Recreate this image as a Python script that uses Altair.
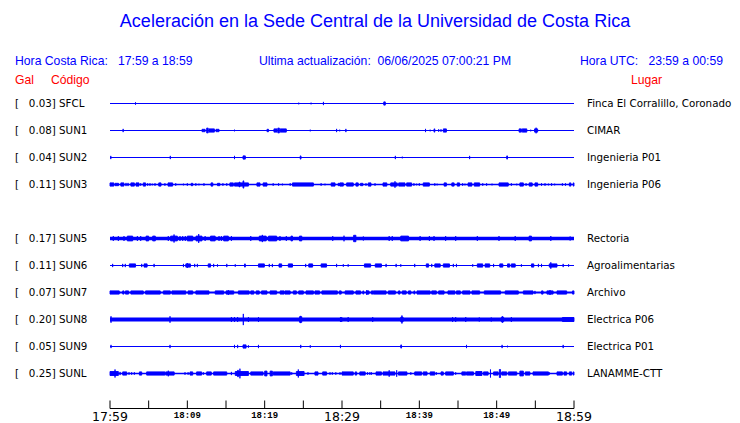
import altair as alt
import pandas as pd

# ---------------- data ----------------
CODES = ["SFCL", "SUN1", "SUN2", "SUN3", "SUN5", "SUN6", "SUN7", "SUN8", "SUN9", "SUNL"]
SLOTS = [0, 1, 2, 3, 5, 6, 7, 8, 9, 10]          # SUN4 slot is empty
PEAK_GAL = ["0.03", "0.08", "0.04", "0.11", "0.17", "0.11", "0.07", "0.20", "0.05", "0.25"]
PLACES = ["Finca El Corralillo, Coronado", "CIMAR", "Ingenieria P01", "Ingenieria P06",
          "Rectoria", "Agroalimentarias", "Archivo", "Electrica P06", "Electrica P01",
          "LANAMME-CTT"]

TICK_MIN = [0, 5, 10, 15, 20, 25, 30, 35, 40, 45, 50, 55, 60]
MAJOR_LABEL_MIN = [0, 30, 60]
MAJOR_LABELS = ["17:59", "18:29", "18:59"]
MINOR_LABEL_MIN = [10, 20, 40, 50]
MINOR_LABELS = ["18:09", "18:19", "18:39", "18:49"]

# events per station: (start minute, end minute, relative amplitude)
SFCL = [(3.3, 3.3, 1.5), (24.4, 24.4, 1), (26.0, 26.0, 1), (27.6, 27.6, 2), (35.4, 35.6, 2)]
SUN1 = [(1.7, 1.7, 2), (11.9, 12.3, 1.5), (12.5, 12.7, 3), (12.8, 13.5, 2), (13.7, 14.1, 1.5),
        (16.1, 16.1, 1), (20.3, 20.5, 1.5), (21.2, 21.6, 2), (21.7, 21.9, 3), (22.0, 22.8, 2),
        (25.9, 25.9, 1), (29.3, 29.3, 2), (29.7, 29.7, 1), (30.5, 30.5, 2), (40.8, 40.8, 2),
        (41.4, 41.4, 1), (41.9, 42.0, 2), (42.5, 42.5, 1.5), (42.8, 42.8, 1.5), (43.1, 43.5, 2),
        (52.9, 53.2, 2), (53.3, 53.9, 2), (54.4, 54.4, 1), (54.9, 55.3, 2), (55.1, 55.1, 3.5)]
SUN2 = [(0.1, 0.1, 2), (7.8, 7.8, 2), (16.1, 16.1, 2), (17.2, 17.5, 2), (24.6, 24.7, 2),
        (36.9, 36.9, 2), (37.8, 37.8, 1), (46.5, 46.5, 2), (51.3, 51.4, 2)]
SUN3 = [(0.0, 0.5, 2), (0.65, 1.1, 1.5), (1.4, 1.8, 2), (2.07, 2.07, 2), (2.33, 2.33, 2),
        (2.7, 3.15, 2), (3.36, 3.75, 2), (3.97, 3.97, 1.5), (4.3, 4.6, 2), (4.87, 4.87, 1.5),
        (5.17, 5.17, 1.5), (5.47, 5.47, 1), (5.82, 5.82, 1.5), (6.3, 6.6, 2), (7.1, 7.1, 1.5),
        (7.5, 8.1, 2), (8.5, 8.5, 1.5), (9.5, 9.5, 1), (10.0, 10.0, 1.5), (10.5, 10.7, 1.5),
        (11.1, 11.1, 1.5), (11.5, 11.5, 1), (12.15, 12.15, 1.5), (13.06, 13.3, 2), (13.9, 14.2, 1.5),
        (14.6, 14.6, 1.5), (15.1, 15.1, 1.5), (15.5, 15.95, 2), (16.1, 17.9, 2), (16.7, 16.8, 3),
        (17.2, 17.3, 4.5), (19.0, 19.4, 2), (19.8, 20.3, 2), (21.1, 21.1, 1.5), (21.8, 21.8, 1.5),
        (22.3, 22.3, 1), (23.3, 23.3, 1.5), (23.6, 26.3, 2), (27.3, 27.3, 1.5), (27.8, 27.8, 1),
        (28.6, 29.1, 2), (29.5, 29.7, 1.5), (29.74, 30.17, 2), (30.6, 31.46, 2), (31.8, 32.1, 2),
        (32.4, 32.7, 1.5), (33.1, 33.1, 1.5), (33.4, 33.75, 2), (34.27, 34.27, 1.5), (35.3, 35.8, 2),
        (36.3, 37.15, 2), (36.85, 36.85, 4), (37.33, 38.15, 2), (38.36, 39.0, 2), (39.3, 39.3, 1.5),
        (39.65, 39.65, 1), (40.0, 40.0, 1.5), (40.5, 41.3, 2), (42.0, 42.0, 1.5), (42.3, 42.3, 1),
        (43.2, 43.5, 2), (44.2, 44.5, 2), (44.9, 45.2, 2), (45.6, 45.6, 1.5), (45.9, 45.9, 1),
        (46.3, 46.8, 2), (47.1, 47.8, 2), (48.2, 48.2, 1.5), (48.7, 48.7, 1.5), (49.4, 49.4, 1),
        (50.3, 51.5, 2), (51.9, 51.9, 1.5), (52.6, 52.6, 1), (53.0, 53.45, 2), (53.8, 53.8, 1.5),
        (54.2, 54.6, 2), (54.95, 55.3, 2), (55.8, 55.8, 1.5), (56.25, 56.25, 1.5), (56.7, 56.7, 1),
        (57.1, 57.1, 1.5), (57.5, 57.5, 1), (58.5, 58.5, 1.5), (58.9, 58.9, 1.5), (59.4, 59.6, 2),
        (59.9, 60.0, 2)]
SUN5 = [(0.43, 0.43, 3), (1.08, 1.08, 3), (1.81, 1.81, 3), (2.24, 2.93, 3), (3.54, 3.54, 3),
        (3.97, 3.97, 3), (4.66, 5.0, 3), (5.52, 5.86, 3), (7.54, 7.54, 3), (7.84, 8.71, 3),
        (8.28, 8.28, 5), (9.05, 9.05, 3), (9.4, 9.4, 3), (9.74, 9.74, 3), (10.0, 10.7, 3),
        (11.12, 11.9, 3), (11.47, 11.47, 5.5), (12.3, 12.3, 3), (13.0, 13.6, 3), (14.1, 14.1, 3),
        (14.4, 14.4, 3), (14.7, 15.3, 3), (15.7, 15.7, 3), (18.2, 18.2, 3), (19.3, 20.2, 3),
        (19.7, 19.7, 4.5), (20.5, 21.55, 3), (21.98, 21.98, 3), (22.8, 22.8, 3), (23.4, 23.6, 3),
        (24.5, 24.8, 3), (28.8, 28.8, 3), (30.26, 30.26, 3.5), (31.5, 31.8, 4), (32.76, 32.76, 2.5),
        (36.1, 36.1, 3), (36.5, 36.5, 3), (37.6, 38.6, 3), (40.1, 40.1, 3), (41.3, 41.3, 3),
        (41.9, 41.9, 3), (43.4, 43.4, 3), (44.7, 44.7, 3), (47.5, 47.5, 3), (50.3, 50.3, 3),
        (52.4, 52.4, 3), (54.2, 54.5, 3), (57.0, 57.0, 3), (59.5, 59.5, 2.5)]
SUN6 = [(0.34, 0.34, 2), (1.64, 1.64, 2), (1.98, 1.98, 2), (2.5, 3.3, 2), (4.1, 4.1, 2),
        (4.4, 4.8, 2), (5.7, 5.7, 2), (9.5, 9.5, 2), (9.8, 10.4, 2), (10.0, 10.0, 3),
        (10.95, 10.95, 2), (11.3, 11.3, 2), (12.7, 13.0, 2), (13.4, 13.4, 2), (13.9, 13.9, 1.5),
        (15.1, 15.1, 2), (16.2, 16.2, 1.5), (17.4, 17.5, 2), (19.2, 19.96, 2), (20.6, 20.6, 2),
        (21.0, 21.0, 2), (21.85, 22.2, 2), (23.06, 23.6, 2), (25.3, 25.3, 2), (25.7, 26.2, 2),
        (27.3, 28.0, 2), (29.3, 29.3, 2), (30.17, 30.17, 1.5), (30.8, 30.8, 1.5), (32.9, 33.7, 2),
        (34.3, 35.1, 2), (35.7, 35.7, 2), (37.0, 37.0, 2), (37.6, 37.6, 1.5), (39.4, 39.4, 2),
        (40.9, 41.2, 2), (41.6, 41.6, 2), (42.0, 42.7, 2), (43.1, 43.9, 2), (44.4, 44.4, 2),
        (44.8, 44.8, 2), (46.9, 46.9, 1.5), (47.5, 48.2, 2), (48.5, 49.1, 2), (49.6, 49.6, 2),
        (50.4, 50.8, 2), (51.4, 51.7, 2), (51.9, 52.4, 2), (53.2, 53.2, 1.5), (54.5, 54.8, 2),
        (55.4, 55.4, 2), (55.8, 55.8, 2), (56.8, 57.8, 2), (57.0, 57.0, 4), (58.6, 58.6, 2),
        (59.3, 59.3, 1.5)]
SUN7 = [(0.0, 1.2, 2), (1.64, 1.81, 2), (2.0, 2.4, 2), (2.7, 4.3, 2), (4.6, 6.5, 2), (6.9, 7.8, 2),
        (8.0, 9.8, 2), (10.1, 10.7, 2), (11.1, 12.8, 2), (13.6, 14.7, 2), (15.0, 16.0, 2),
        (15.3, 15.3, 3), (16.6, 18.0, 2), (18.2, 18.6, 2), (18.9, 19.3, 2), (19.6, 20.3, 2),
        (20.7, 21.55, 2), (22.0, 22.5, 2), (22.6, 23.3, 2), (23.7, 24.1, 2), (24.4, 25.0, 2),
        (25.35, 26.3, 2), (26.5, 27.1, 2), (27.4, 29.4, 2), (29.65, 29.9, 2), (30.4, 31.46, 2),
        (31.8, 32.4, 2), (32.7, 32.8, 2), (33.2, 33.5, 2), (33.2, 33.2, 3), (33.8, 34.0, 2),
        (34.05, 35.7, 2), (36.0, 36.9, 2), (37.3, 37.5, 2), (37.8, 38.3, 2), (38.6, 38.9, 2),
        (39.3, 39.4, 2), (39.7, 41.4, 2), (41.6, 42.2, 2), (42.5, 43.2, 2), (43.7, 44.6, 2),
        (44.8, 45.3, 2), (45.6, 46.55, 2), (46.8, 47.8, 2), (48.4, 50.5, 2), (51.1, 52.8, 2),
        (53.45, 54.7, 2), (54.95, 54.95, 2), (55.8, 56.0, 2), (56.5, 57.3, 2), (56.9, 56.9, 3),
        (57.8, 59.05, 2), (59.8, 60.0, 2)]
SUN8 = [(0.13, 0.13, 4), (7.76, 7.76, 4), (15.7, 15.7, 3), (16.1, 16.1, 3), (16.5, 16.5, 3),
        (17.24, 17.24, 7), (17.9, 17.9, 3), (19.2, 19.2, 3), (24.5, 24.8, 3.5), (24.65, 24.65, 4.5),
        (29.8, 29.8, 3), (29.96, 29.96, 3), (30.8, 30.8, 3), (33.97, 33.97, 3), (37.6, 37.9, 3),
        (37.75, 37.75, 5), (44.3, 44.3, 3), (44.7, 44.7, 3), (46.0, 46.0, 3), (47.75, 47.75, 2.5),
        (49.3, 49.3, 2.5), (50.6, 50.9, 3), (50.75, 50.75, 4), (51.9, 51.9, 3), (58.5, 60.0, 2.5)]
SUN9 = [(0.13, 0.13, 2), (7.76, 7.76, 2), (16.1, 16.1, 2), (16.5, 16.5, 2), (17.2, 17.6, 2),
        (17.9, 17.9, 1.5), (19.2, 19.2, 2), (24.66, 24.66, 2), (25.9, 25.9, 1.5), (29.8, 29.8, 2),
        (37.6, 37.7, 2), (46.1, 46.1, 2), (50.7, 50.7, 2), (51.4, 51.4, 1), (58.6, 58.6, 2)]
SUNL = [(0.0, 1.08, 2.5), (0.65, 0.65, 5), (1.3, 1.3, 2), (1.64, 2.16, 2), (2.46, 2.46, 1.5),
        (2.8, 2.8, 1.5), (3.15, 3.15, 1.5), (3.8, 4.1, 2), (4.74, 7.1, 2), (7.2, 8.3, 2),
        (7.54, 7.54, 3.5), (9.7, 9.7, 1.5), (10.1, 10.1, 1.5), (10.35, 10.7, 2), (11.2, 11.85, 2),
        (12.07, 12.07, 1.5), (12.5, 13.1, 2), (13.4, 15.1, 2), (15.7, 15.7, 2), (16.2, 17.9, 2.5),
        (16.5, 16.6, 4), (16.8, 16.8, 6), (18.2, 19.8, 2), (20.0, 20.3, 3), (20.7, 21.0, 3),
        (21.1, 23.3, 2), (23.5, 23.5, 1.5), (24.1, 25.1, 2.5), (24.35, 24.35, 5), (25.6, 25.6, 1.5),
        (26.5, 26.9, 2), (27.5, 28.0, 2), (28.45, 28.45, 1.5), (28.75, 28.75, 1.5), (29.2, 29.2, 1.5),
        (29.74, 29.74, 1.5), (30.0, 31.46, 2), (31.7, 31.9, 2), (32.3, 33.0, 2), (33.3, 33.3, 1.5),
        (33.6, 33.6, 1.5), (33.8, 33.8, 1.5), (34.4, 35.1, 2), (35.3, 36.85, 2), (36.1, 36.1, 4),
        (37.07, 37.07, 4), (37.3, 38.4, 2), (38.9, 38.9, 1.5), (39.4, 40.3, 2), (40.5, 41.0, 2),
        (41.4, 42.0, 2), (42.2, 42.2, 1.5), (42.8, 43.1, 2), (43.4, 44.4, 2), (44.7, 44.7, 1.5),
        (45.5, 46.0, 2), (46.1, 47.0, 2), (47.3, 48.1, 2.5), (48.3, 48.9, 2), (49.2, 49.2, 5),
        (49.6, 50.2, 2), (50.35, 50.5, 5), (50.65, 51.3, 2), (51.5, 52.6, 2), (53.0, 53.45, 3),
        (53.7, 54.3, 2), (54.7, 56.7, 2), (56.8, 56.8, 1.5), (57.8, 58.5, 2), (58.7, 59.05, 2),
        (59.4, 59.7, 2), (59.9, 60.0, 2)]
EVENTS = [SFCL, SUN1, SUN2, SUN3, SUN5, SUN6, SUN7, SUN8, SUN9, SUNL]

# ---------------- styles / layout ----------------
BLUE = "#0000ff"
RED = "#ff0000"
NB = "\u00a0"
ROW_STEP = 27
AMP_PX = 0.8
LINE_WIDTH = [1, 1.1, 1, 1.3, 3.5, 1, 1.8, 4, 1.1, 1.4]

xs = alt.Scale(domain=[0, 60], range=[102, 566])
ys = alt.Scale(domain=[0, 270], range=[95.5, 365.5])

base_rows = []
ev_rows = []
for code, slot, g, place, ev, lw in zip(CODES, SLOTS, PEAK_GAL, PLACES, EVENTS, LINE_WIDTH):
    yc = slot * ROW_STEP
    base_rows.append({"code": code, "yc": yc, "x0": TICK_MIN[0], "x1": TICK_MIN[-1], "sw": lw,
                      "left": "[" + NB * 3 + g + "]" + NB + code, "place": place})
    for t0, t1, a in ev:
        ev_rows.append({"code": code, "x0": t0, "x1": t1,
                        "lo": yc - a * AMP_PX, "hi": yc + a * AMP_PX})
base = pd.DataFrame(base_rows)
events = pd.DataFrame(ev_rows)

baseline = alt.Chart(base).mark_rule(color=BLUE).encode(
    x=alt.X("x0:Q", scale=xs, axis=None), x2="x1:Q",
    y=alt.Y("yc:Q", scale=ys, axis=None),
    strokeWidth=alt.StrokeWidth("sw:Q", scale=None, legend=None))

bursts = alt.Chart(events).mark_rect(fill=BLUE, stroke=BLUE, strokeWidth=0.9).encode(
    x=alt.X("x0:Q", scale=xs, axis=None), x2="x1:Q",
    y=alt.Y("lo:Q", scale=ys, axis=None), y2="hi:Q")

left_txt = alt.Chart(base).mark_text(align="left", baseline="middle", font="DejaVu Sans",
                                     fontSize=10.3, color="black").encode(
    x=alt.value(7), y=alt.Y("yc:Q", scale=ys, axis=None), text="left:N")

right_txt = alt.Chart(base).mark_text(align="left", baseline="middle", font="DejaVu Sans",
                                      fontSize=10.3, color="black").encode(
    x=alt.value(579), y=alt.Y("yc:Q", scale=ys, axis=None), text="place:N")


def label(text, x, y, color, size, align="left", font="Liberation Sans"):
    return alt.Chart(pd.DataFrame({"t": [text]})).mark_text(
        align=align, baseline="middle", font=font, fontSize=size, color=color).encode(
        x=alt.value(x), y=alt.value(y), text="t:N")


title = label("Aceleración en la Sede Central de la Universidad de Costa Rica", 367, 14, BLUE, 18,
              align="center")
h1 = label("Hora Costa Rica:" + NB * 3 + "17:59 a 18:59", 7, 53, BLUE, 12.2)
h2 = label("Ultima actualización:" + NB * 2 + "06/06/2025 07:00:21 PM", 251, 53, BLUE, 12.2)
h3 = label("Hora UTC:" + NB * 3 + "23:59 a 00:59", 572, 53, BLUE, 12.2)
r1 = label("Gal", 7, 72, RED, 12.2)
r2 = label("Código", 43, 72, RED, 12.2)
r3 = label("Lugar", 623, 72, RED, 12.2)

axis_line = alt.Chart(pd.DataFrame({"a": [TICK_MIN[0]], "b": [TICK_MIN[-1]]})).mark_rule(
    color="black", strokeWidth=1).encode(
    x=alt.X("a:Q", scale=xs, axis=None), x2="b:Q", y=alt.value(400.5))

ticks = alt.Chart(pd.DataFrame({"t": TICK_MIN})).mark_rule(color="black", strokeWidth=1).encode(
    x=alt.X("t:Q", scale=xs, axis=None), y=alt.value(392.5), y2=alt.value(400.5))

major = alt.Chart(pd.DataFrame({"t": MAJOR_LABEL_MIN, "s": MAJOR_LABELS})).mark_text(
    align="center", baseline="middle", font="DejaVu Sans", fontSize=12.5, color="black").encode(
    x=alt.X("t:Q", scale=xs, axis=None), y=alt.value(408.5), text="s:N")

minor = alt.Chart(pd.DataFrame({"t": MINOR_LABEL_MIN, "s": MINOR_LABELS})).mark_text(
    align="center", baseline="middle", font="Liberation Mono", fontSize=9, fontWeight="bold",
    color="black").encode(
    x=alt.X("t:Q", scale=xs, axis=None), y=alt.value(406.5), text="s:N")

chart = alt.layer(baseline, bursts, left_txt, right_txt, title, h1, h2, h3, r1, r2, r3,
                  axis_line, ticks, major, minor).properties(
    width=724, height=414, padding=0,
    autosize=alt.AutoSizeParams(type="none"),
    background="white",
).configure_view(stroke=None)

chart.save("out.html", embed_options={"renderer": "svg", "actions": False})
